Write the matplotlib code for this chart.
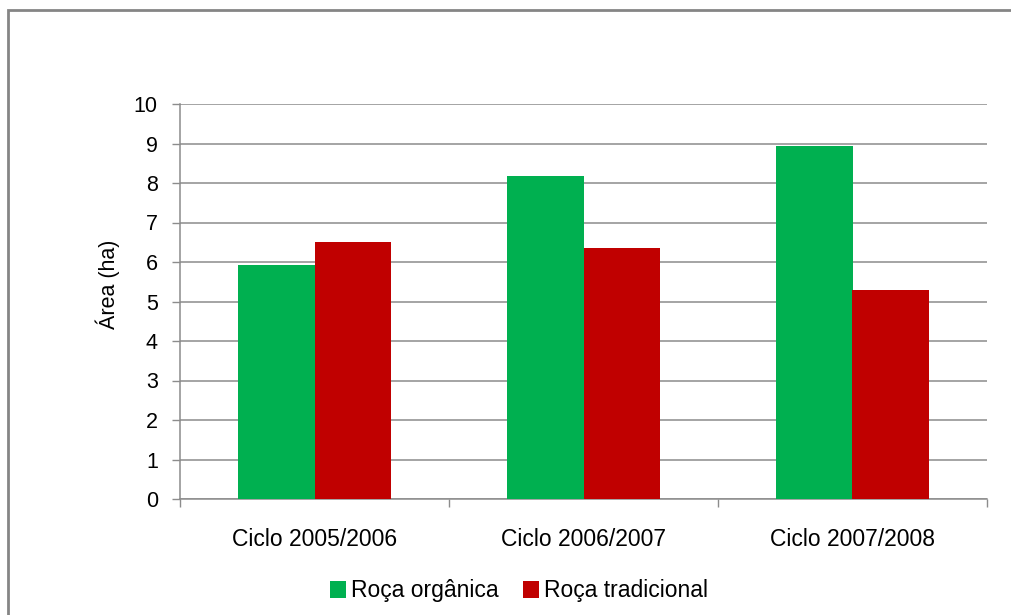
import matplotlib
matplotlib.use("Agg")
import matplotlib.pyplot as plt
from matplotlib.patches import Rectangle, Patch
import numpy as np

plt.rcParams['font.family'] = ['Liberation Sans', 'DejaVu Sans']

categories = ["Ciclo 2005/2006", "Ciclo 2006/2007", "Ciclo 2007/2008"]
organica = [5.92, 8.18, 8.93]
tradicional = [6.50, 6.36, 5.30]
series_names = ["Roça orgânica", "Roça tradicional"]
y_ticks = [0, 1, 2, 3, 4, 5, 6, 7, 8, 9, 10]

green = "#00B050"
red = "#C00000"
grid_col = "#8C8C8C"

W, H = 1011, 615
fig = plt.figure(figsize=(W / 100, H / 100), dpi=100)

# outer chart frame (only left and top edges fall inside the image)
fig.patches.append(Rectangle((8 / W, -0.1), 1.2, 1 - 10 / H + 0.1,
                             transform=fig.transFigure, fill=False,
                             edgecolor="#858585", linewidth=2))

ax = fig.add_axes([180 / W, 1 - 499 / H, (987 - 180) / W, (499 - 104) / H])

x = np.arange(len(categories))
bw = 0.286
ax.bar(x - bw / 2, organica, width=bw, color=green, label=series_names[0], zorder=3)
ax.bar(x + bw / 2, tradicional, width=bw, color=red, label=series_names[1], zorder=3)

ax.set_xlim(-0.5, len(categories) - 0.5)
ax.set_ylim(0, 10)
ax.set_yticks(y_ticks)
ax.set_yticklabels([str(t) for t in y_ticks])
ax.yaxis.grid(True, color=grid_col, linewidth=1.1, zorder=0)
ax.set_axisbelow(True)

# category labels centred, tick marks at category boundaries
ax.set_xticks(x)
ax.set_xticklabels(categories)
ax.set_xticks(np.arange(-0.5, len(categories)), minor=True)
ax.tick_params(axis='x', which='major', length=0, pad=21, labelsize=16.5)
ax.tick_params(axis='x', which='minor', length=6, color=grid_col, width=1)
ax.tick_params(axis='y', length=6, color=grid_col, width=1, pad=10, labelsize=15.5)

for s in ["top", "right"]:
    ax.spines[s].set_visible(False)
for s in ["left", "bottom"]:
    ax.spines[s].set_color(grid_col)
    ax.spines[s].set_linewidth(1.1)

fig.text(108 / W, 1 - 284 / H, "Área (ha)", rotation=90, ha="center", va="center",
         fontsize=15.5)

handles = [Patch(facecolor=green), Patch(facecolor=red)]
fig.legend(handles, series_names, loc="center", bbox_to_anchor=(519 / W, 1 - 591 / H),
           ncol=2, frameon=False, fontsize=16.5, handlelength=0.7, handleheight=0.7,
           handletextpad=0.2, columnspacing=1.1)

fig.savefig("out.png", dpi=100)
